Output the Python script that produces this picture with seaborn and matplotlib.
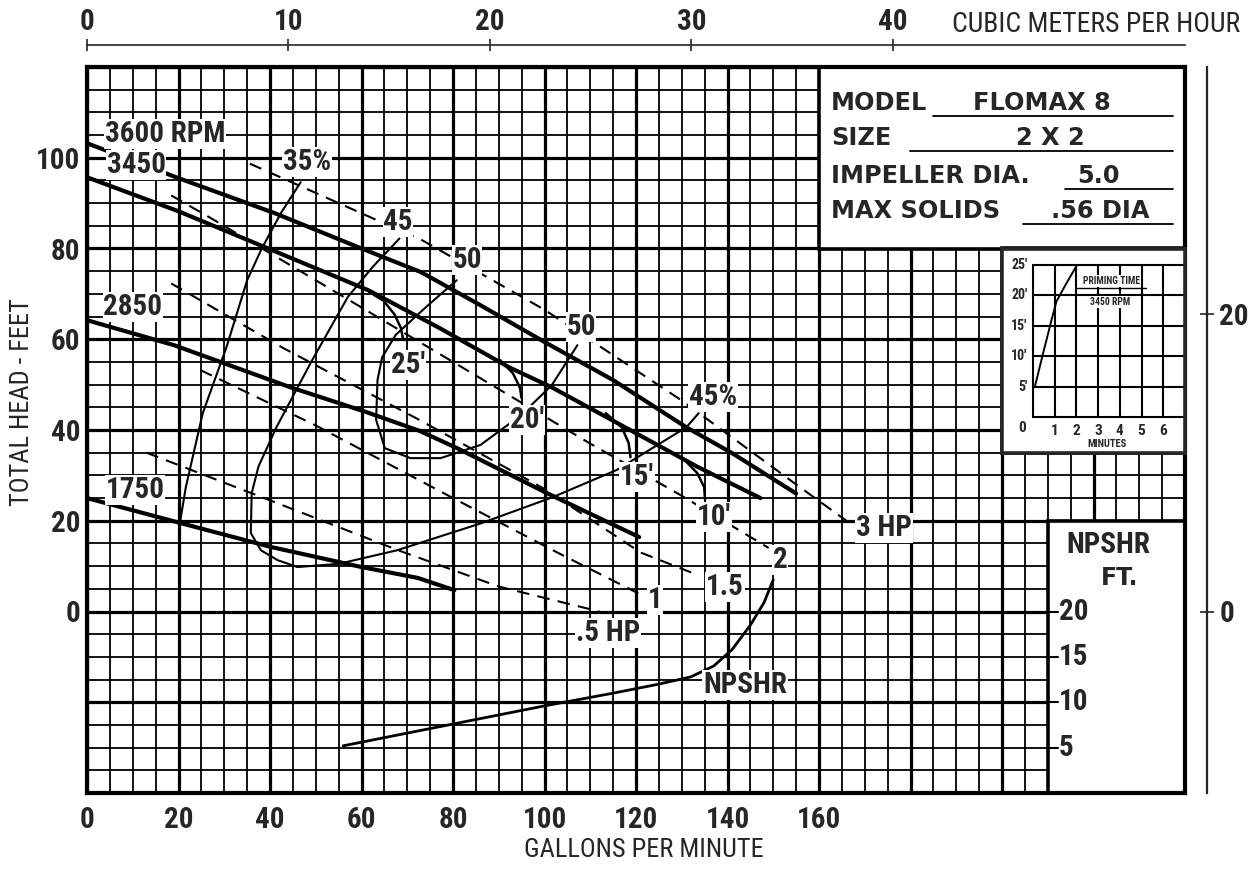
import numpy as np
import matplotlib
matplotlib.use("Agg")
import matplotlib.pyplot as plt
import seaborn as sns
from matplotlib import font_manager as fm
from matplotlib.patches import Rectangle

# ---------------- data ----------------
gpm_ticks = [0, 20, 40, 60, 80, 100, 120, 140, 160]
head_ticks = [0, 20, 40, 60, 80, 100]
m3h_ticks = [0, 10, 20, 30, 40]
meter_ticks = [0, 20]
npshr_ticks = [20, 15, 10, 5]

# head-capacity curves (GPM, feet)
gpm_3600 = [0, 20, 41, 60, 73, 86, 100, 115, 131, 141, 155]
head_3600 = [103.2, 95.5, 87.8, 80, 74.8, 67.5, 59.4, 51, 40.6, 34.9, 26]
gpm_3450 = [0, 20, 39.6, 61.5, 77, 92.3, 101.6, 114.7, 133.6, 147.2]
head_3450 = [95.7, 88.2, 80, 70.8, 62.5, 53.8, 49.4, 42.2, 31.8, 25]
gpm_2850 = [0, 19, 44.5, 61.2, 72.7, 80.9, 100.5, 120.7]
head_2850 = [64.2, 58.7, 49.4, 43.9, 39.8, 36.0, 26.1, 16.4]
gpm_1750 = [0, 20.4, 40.3, 60, 72.3, 80.3]
head_1750 = [25, 19.5, 14.2, 9.8, 7.4, 4.7]

# efficiency contours
eff35_gpm = [20.3, 21.6, 25.3, 30.5, 35, 38.2, 42.5, 46.7]
eff35_head = [19.5, 27.4, 43.7, 58.3, 73, 80, 88, 94.6]
eff45_gpm = [68.3, 62.5, 57, 49, 41.4, 37.5, 36, 35.8, 38, 41.7, 46, 55, 67.8, 86.3, 101.8, 115.8, 131, 133.7]
eff45_head = [82.2, 76, 69.3, 55, 40.6, 32, 26.1, 17.3, 13.5, 11.3, 9.8, 10.5, 13.5, 19.5, 25.2, 31.2, 40.6, 43.7]
eff50_gpm = [80.8, 74, 67.5, 64.5, 63.5, 63.2, 65.1, 70.7, 77.3, 86, 94.9, 101.6, 107.2]
eff50_head = [73, 67, 61, 56, 51, 42.2, 36, 33.8, 33.8, 36.7, 43.3, 49.9, 58.7]

# submergence arcs (25', 20', 15', 10')
arc25_gpm = [61.7, 64.8, 67.2, 68.6, 69.1]
arc25_head = [70.4, 68.5, 65.5, 62.5, 60]
arc20_gpm = [90.3, 93.1, 94.6, 95.0]
arc20_head = [55.4, 52.5, 49.4, 47]
arc15_gpm = [113.4, 116.9, 118.4, 118.8]
arc15_head = [43.7, 40.6, 37.1, 34]
arc10_gpm = [130.6, 133.4, 134.9, 135.1]
arc10_head = [33.4, 30.5, 27.4, 24.6]

# horsepower lines (dashed)
hp3_gpm = [35.6, 55, 73.3, 100, 130, 155, 166]
hp3_head = [98.7, 90, 81.8, 66.5, 46.5, 28, 20]
hp2_gpm = [18.4, 26.9, 50, 80, 110, 130, 149]
hp2_head = [91.7, 86.8, 73, 55, 37, 25.5, 14]
hp15_gpm = [18.4, 43, 72.7, 100, 121, 133.6]
hp15_head = [72.3, 58, 42.2, 27, 13, 8]
hp1_gpm = [24.8, 50, 80, 103, 120.5]
hp1_head = [53.2, 41, 25, 12.9, 4]
hp05_gpm = [13, 40, 68, 90, 112]
hp05_head = [35, 24.5, 13.5, 5.5, 0]

# NPSHR curve (GPM, NPSHR ft)
npshr_gpm = [56, 70, 85, 100, 115, 125, 132, 137, 141, 145, 148, 150]
npshr_ft = [5.2, 6.6, 8.1, 9.6, 11.0, 12.0, 12.8, 14.0, 15.8, 18.5, 21.0, 23.5]

# priming time inset (minutes, feet)
prime_min = [0.08, 0.46, 0.85, 1.08, 1.54, 2.03]
prime_ft = [4.9, 10.4, 15.9, 19.0, 22.0, 25.0]
prime_xticks = [1, 2, 3, 4, 5, 6]
prime_yticks = [5, 10, 15, 20, 25]

info_labels = ["MODEL", "SIZE", "IMPELLER DIA.", "MAX SOLIDS"]
info_values = ["FLOMAX 8", "2 X 2", "5.0", ".56 DIA"]

# ---------------- fonts ----------------
def pick(cands):
    for c in cands:
        try:
            fm.findfont(fm.FontProperties(family=c), fallback_to_default=False)
            return c
        except Exception:
            pass
    return "DejaVu Sans"

NARROW = pick(["Liberation Sans Narrow", "DejaVu Sans Condensed", "Roboto Condensed", "Liberation Sans"])
BOLD = "DejaVu Sans"

sns.set_style("white")
plt.rcParams["font.family"] = [NARROW, "DejaVu Sans"]

W, H = 1253, 869
fig = plt.figure(figsize=(W / 100, H / 100), dpi=100)
AX_L, AX_R, AX_T, AX_B = 87, 1185, 67, 793
ax = fig.add_axes([AX_L / W, 1 - AX_B / H, (AX_R - AX_L) / W, (AX_B - AX_T) / H])
ax.set_xlim(0, 240)
ax.set_ylim(-40, 120)
ax.set_facecolor("white")

def fpos(px, py):
    return px / W, 1 - py / H

def dpos(px, py):
    return (px - AX_L) / 4.575, (611.5 - py) / 4.5375

# grid
ax.set_xticks(np.arange(0, 241, 20))
ax.set_xticks(np.arange(0, 241, 5), minor=True)
ax.set_yticks(np.arange(-40, 121, 20))
ax.set_yticks(np.arange(-40, 121, 5), minor=True)
ax.set_axisbelow(True)
ax.grid(which="major", color="black", lw=2.3)
ax.grid(which="minor", color="black", lw=1.3)
ax.set_xticklabels([str(v) if v in gpm_ticks else "" for v in np.arange(0, 241, 20)])
ax.set_yticklabels([str(v) if v in head_ticks else "" for v in np.arange(-40, 121, 20)])
ax.tick_params(axis="both", which="both", length=0)
ax.tick_params(axis="x", pad=9)
ax.tick_params(axis="y", pad=5)
for lbl in ax.get_xticklabels() + ax.get_yticklabels():
    lbl.set_fontfamily(NARROW)
    lbl.set_fontweight("bold")
    lbl.set_fontsize(21)
for s in ax.spines.values():
    s.set_linewidth(3)
    s.set_color("black")

# white boxes
for (x0, y0, w, h) in [(160, 80, 80, 40), (200, 35, 40, 45), (210, -40, 30, 60)]:
    ax.add_patch(Rectangle((x0, y0), w, h, fc="white", ec="black", lw=2.6, zorder=1.5))

# curves
def line(x, y, lw, ls="-", a=ax, z=3):
    sns.lineplot(x=x, y=y, ax=a, sort=False, estimator=None, color="black",
                 linewidth=lw, linestyle=ls, zorder=z)

for gx, gy in [(gpm_3600, head_3600), (gpm_3450, head_3450), (gpm_2850, head_2850), (gpm_1750, head_1750)]:
    line(gx, gy, 3.0)
for gx, gy in [(eff35_gpm, eff35_head), (eff45_gpm, eff45_head), (eff50_gpm, eff50_head)]:
    line(gx, gy, 1.5)
for gx, gy in [(arc25_gpm, arc25_head), (arc20_gpm, arc20_head), (arc15_gpm, arc15_head), (arc10_gpm, arc10_head)]:
    line(gx, gy, 1.8)
for gx, gy in [(hp3_gpm, hp3_head), (hp2_gpm, hp2_head), (hp15_gpm, hp15_head), (hp1_gpm, hp1_head), (hp05_gpm, hp05_head)]:
    line(gx, gy, 1.5, ls=(0, (6, 4)))

# curve labels
lab_kw = dict(fontfamily=NARROW, fontweight="bold", fontsize=21, ha="center", va="center", zorder=5,
              bbox=dict(boxstyle="square,pad=0.02", fc="white", ec="none"))
curve_labels = [("3600 RPM", 165, 134), ("3450", 136, 165), ("2850", 133, 307), ("1750", 135, 490),
                ("35%", 307, 162), ("45", 398, 222), ("50", 467, 260), ("50", 581, 327),
                ("45%", 713, 397), ("25'", 408, 365), ("20'", 527, 420), ("15'", 637, 477),
                ("10'", 714, 517), ("3 HP", 884, 528), ("2", 780, 560), ("1.5", 725, 587),
                ("1", 655, 600), (".5 HP", 608, 633)]
for t, px, py in curve_labels:
    x, y = dpos(px, py)
    ax.text(x, y, t, **lab_kw)

# NPSHR on its own scale
axn = ax.twinx()
axn.set_ylim(0, 80)
axn.axis("off")
line(npshr_gpm, npshr_ft, 2.0, a=axn)
x, y = dpos(745, 685)
axn.text(x, (y + 40) / 2, "NPSHR", **lab_kw)
for v in npshr_ticks:
    axn.plot([210, 212.2], [v, v], color="black", lw=1.5)
    axn.text(212.4, v, str(v), fontfamily=NARROW, fontweight="bold", fontsize=21, ha="left", va="center")
fig.text(*fpos(1108, 545), "NPSHR", fontfamily=NARROW, fontweight="bold", fontsize=21, ha="center", va="center")
fig.text(*fpos(1120, 578), "FT.", fontfamily=BOLD, fontweight="bold", fontsize=17, ha="center", va="center")

# top axis: cubic meters per hour
sec = ax.secondary_xaxis(1.03, functions=(lambda g: g * 0.22712, lambda m: m / 0.22712))
sec.set_xticks(m3h_ticks)
sec.tick_params(direction="inout", length=9, width=1.2, pad=2)
sec.spines["top"].set_linewidth(1.2)
for lbl in sec.get_xticklabels():
    lbl.set_fontfamily(NARROW); lbl.set_fontweight("bold"); lbl.set_fontsize(21)
fig.text(*fpos(1240, 24), "CUBIC METERS PER HOUR", fontfamily=NARROW, fontsize=20, ha="right", va="center")

# right axis: meters
sey = ax.secondary_yaxis(1.02, functions=(lambda f: f * 0.3048, lambda m: m / 0.3048))
sey.set_yticks(meter_ticks)
sey.tick_params(direction="inout", length=10, width=1.2, pad=4)
sey.spines["right"].set_linewidth(1.6)
for lbl in sey.get_yticklabels():
    lbl.set_fontfamily(NARROW); lbl.set_fontweight("bold"); lbl.set_fontsize(21)

# axis titles
fig.text(*fpos(22, 402), "TOTAL HEAD - FEET", fontfamily=NARROW, fontsize=19, rotation=90, ha="center", va="center")
fig.text(*fpos(644, 850), "GALLONS PER MINUTE", fontfamily=NARROW, fontsize=19, ha="center", va="center")

# info box
info_y = [103, 138, 176, 211]
val_x = [1042, 1050, 1098, 1100]
line_x0 = [933, 910, 1065, 1023]
for lab, val, y, vx, lx in zip(info_labels, info_values, info_y, val_x, line_x0):
    fig.text(*fpos(831, y), lab, fontfamily=BOLD, fontweight="bold", fontsize=17.3, ha="left", va="center")
    fig.text(*fpos(vx, y), val, fontfamily=BOLD, fontweight="bold", fontsize=17.3, ha="center", va="center")
    fig.add_artist(plt.Line2D([lx / W, 1173 / W], [1 - (y + 13) / H] * 2, color="black", lw=1.3))

# priming inset
bx0, bx1 = 1002, 1185
by0, by1 = 248.5, 452.7
iax = fig.add_axes([bx0 / W, 1 - by1 / H, (bx1 - bx0) / W, (by1 - by0) / H])
iax.set_xlim(-31 / 21.7, (bx1 - 1033) / 21.7)
iax.set_ylim(-(by1 - 417) / 6.08, (417 - by0) / 6.08)
iax.set_xticks([]); iax.set_yticks([])
iax.set_facecolor("white")
for s in iax.spines.values():
    s.set_linewidth(2.6)
xr = iax.get_xlim()[1]
for m in range(0, 7):
    iax.plot([m, m], [0, 25], color="black", lw=1.5)
for f in range(0, 26, 5):
    iax.plot([0, xr], [f, f], color="black", lw=1.5)
line(prime_min, prime_ft, 1.4, a=iax)
for v in prime_yticks:
    iax.text(-0.25, v, f"{v}'", fontfamily=NARROW, fontweight="bold", fontsize=10, ha="right", va="center")
iax.text(-0.3, -0.6, "0", fontfamily=NARROW, fontweight="bold", fontsize=11, ha="right", va="top")
for v in prime_xticks:
    iax.text(v, -1.2, str(v), fontfamily=NARROW, fontweight="bold", fontsize=11, ha="center", va="top")
iax.text(3.4, -4.4, "MINUTES", fontfamily=NARROW, fontweight="bold", fontsize=7.5, ha="center", va="center")
iax.text(3.6, 22.3, "PRIMING TIME", fontfamily=NARROW, fontweight="bold", fontsize=7, ha="center", va="center",
         bbox=dict(boxstyle="square,pad=0.1", fc="white", ec="none"))
iax.plot([2.0, 5.2], [21.2, 21.2], color="black", lw=1.0)
iax.text(3.55, 18.9, "3450 RPM", fontfamily=NARROW, fontweight="bold", fontsize=7, ha="center", va="center",
         bbox=dict(boxstyle="square,pad=0.1", fc="white", ec="none"))

fig.savefig("out.png", dpi=100, facecolor="white")
